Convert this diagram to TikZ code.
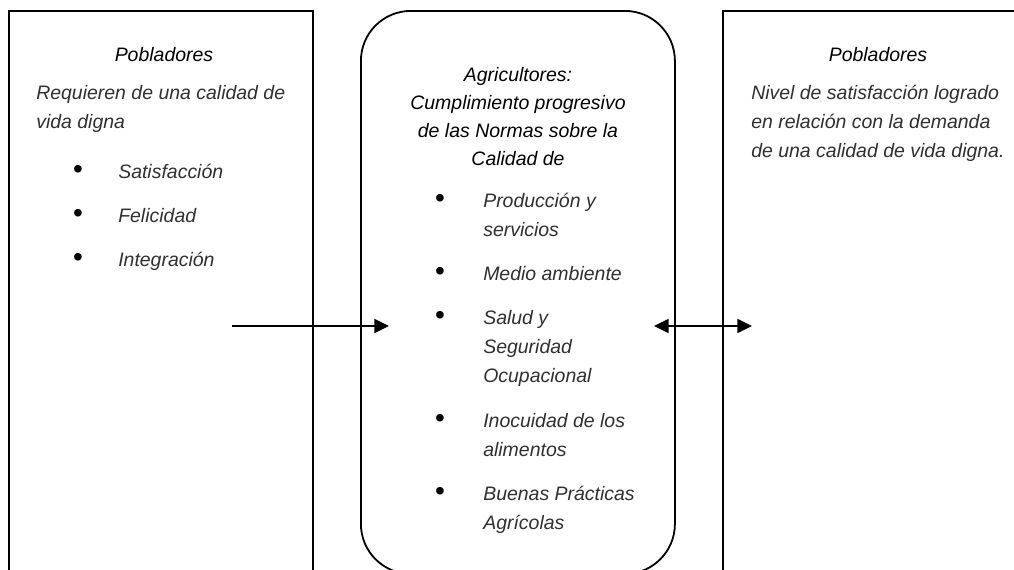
\documentclass[tikz,border=0pt]{standalone}
\usepackage{fontspec}
\setmainfont{Liberation Sans}
\usetikzlibrary{arrows.meta}
\definecolor{bodycol}{HTML}{303030}
\newcommand\mybodyfont{\fontsize{14.6}{17}\selectfont\itshape}
\newcommand\mytitlefont{\fontsize{14.6}{17}\selectfont\itshape}
\newcommand\mybulfont{\fontsize{21}{21}\selectfont}
\begin{document}
\begin{tikzpicture}[x=0.75pt,y=-0.75pt,
  boxline/.style={draw=black,line width=1.35pt,inner sep=0pt,anchor=north west},
  txt/.style={inner sep=0pt,anchor=base west,font=\mybodyfont,text=bodycol},
  ttl/.style={inner sep=0pt,anchor=base,font=\mytitlefont,text=black},
  bul/.style={inner sep=0pt,anchor=center,font=\mybulfont,text=black},
  arr/.style={line width=1.2pt,-{Triangle[length=11pt,width=10.5pt]}},
  darr/.style={line width=1.2pt,{Triangle[length=11pt,width=10.5pt]}-{Triangle[length=11pt,width=10.5pt]}}]
\useasboundingbox (0,0) rectangle (1014,569);
\clip (0,0) rectangle (1014,569);
\fill[white] (0,0) rectangle (1014,569);
% boxes
\node[boxline,minimum width=228pt,minimum height=442.5pt] (leftbox) at (8,10) {};
\node[boxline,minimum width=235.5pt,minimum height=422.25pt,rounded corners=37.5pt] (midbox) at (360,10) {};
\node[boxline,minimum width=238.5pt,minimum height=442.5pt] (rightbox) at (722,10) {};
% left box text
\node[ttl] (ltitle) at (164,61) {Pobladores};
\node[txt] (lp1) at (36,99) {Requieren de una calidad de};
\node[txt] (lp2) at (36,128) {vida digna};
\node[bul] (lb1) at (78,172) {•};
\node[txt] (lt1) at (118,178) {Satisfacción};
\node[bul] (lb2) at (78,216) {•};
\node[txt] (lt2) at (118,222) {Felicidad};
\node[bul] (lb3) at (78,260) {•};
\node[txt] (lt3) at (118,266) {Integración};
% middle box text
\node[ttl] (mt1) at (518,81) {Agricultores:};
\node[ttl] (mt2) at (518,109) {Cumplimiento progresivo};
\node[ttl] (mt3) at (518,137) {de las Normas sobre la};
\node[ttl] (mt4) at (518,165) {Calidad de};
\node[bul] (mb1) at (440,201) {•};
\node[txt] (m1a) at (483,207) {Producción y};
\node[txt] (m1b) at (483,236) {servicios};
\node[bul] (mb2) at (440,274) {•};
\node[txt] (m2a) at (483,280) {Medio ambiente};
\node[bul] (mb3) at (440,318) {•};
\node[txt] (m3a) at (483,324) {Salud y};
\node[txt] (m3b) at (483,353) {Seguridad};
\node[txt] (m3c) at (483,382) {Ocupacional};
\node[bul] (mb4) at (440,421) {•};
\node[txt] (m4a) at (483,427) {Inocuidad de los};
\node[txt] (m4b) at (483,456) {alimentos};
\node[bul] (mb5) at (440,494) {•};
\node[txt] (m5a) at (483,500) {Buenas Prácticas};
\node[txt] (m5b) at (483,529) {Agrícolas};
% right box text
\node[ttl] (rtitle) at (878,61) {Pobladores};
\node[txt] (rp1) at (751,99) {Nivel de satisfacción logrado};
\node[txt] (rp2) at (751,128) {en relación con la demanda};
\node[txt] (rp3) at (751,157) {de una calidad de vida digna.};
% arrows
\coordinate (la1) at (232,326);
\coordinate (la2) at (389,326);
\coordinate (ra1) at (654,326);
\coordinate (ra2) at (752,326);
\draw[arr] (la1) -- (la2);
\draw[darr] (ra1) -- (ra2);
\end{tikzpicture}
\end{document}
